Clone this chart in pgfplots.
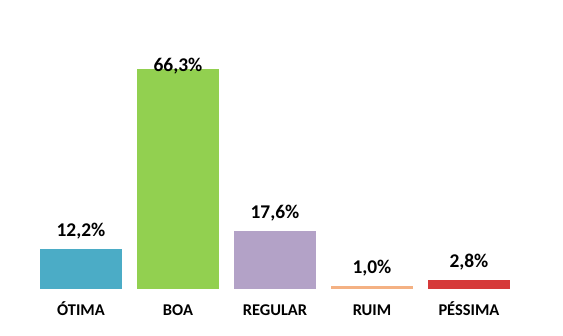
\documentclass[border=0pt]{standalone}
\usepackage{pgfplots}
\pgfplotsset{compat=1.18}
\usepackage{fontspec}
\setmainfont{Carlito}
\definecolor{cOt}{HTML}{4BACC6}
\definecolor{cBoa}{HTML}{92D050}
\definecolor{cReg}{HTML}{B3A2C7}
\definecolor{cRuim}{HTML}{F4B183}
\definecolor{cPes}{HTML}{D63A3A}
\begin{document}
\begin{tikzpicture}
\begin{axis}[
  scale only axis,
  width=563bp, height=289bp,
  xmin=-0.835, xmax=4.97,
  ymin=0, ymax=87.1,
  axis line style={draw=none},
  ytick=\empty,
  xtick={0,1,2,3,4},
  xticklabels={ÓTIMA,BOA,REGULAR,RUIM,PÉSSIMA},
  major tick length=0pt,
  xticklabel style={anchor=base, yshift=-26bp, font=\fontsize{16.5}{18}\selectfont\bfseries},
  ybar, bar width=82bp, bar shift=0pt,
  nodes near coords={\pgfmathprintnumber[fixed,fixed zerofill,precision=1,use comma,assume math mode=true]{\pgfplotspointmeta}\%},
  every node near coord/.append style={anchor=base, yshift=12bp, font=\fontsize{19.5}{22}\selectfont\bfseries, text=black},
  clip=false,
]
\addplot[fill=cOt, draw=none] coordinates {(0,12.2)};
\addplot[fill=cBoa, draw=none, every node near coord/.append style={yshift=-14bp}] coordinates {(1,66.3)};
\addplot[fill=cReg, draw=none] coordinates {(2,17.6)};
\addplot[fill=cRuim, draw=none] coordinates {(3,1.0)};
\addplot[fill=cPes, draw=none] coordinates {(4,2.8)};
\end{axis}
\pgfresetboundingbox
\path (0,-47bp) rectangle (563bp,289bp);
\end{tikzpicture}
\end{document}
